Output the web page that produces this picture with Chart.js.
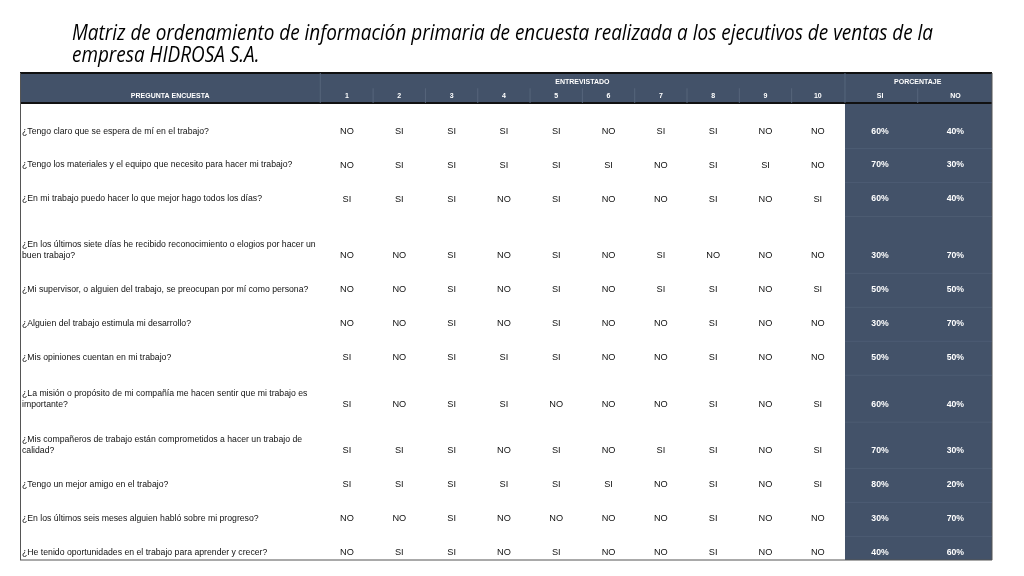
<!DOCTYPE html>
<html><head><meta charset="utf-8">
<script src="https://cdn.jsdelivr.net/npm/chart.js@4"></script>
<style>html,body{margin:0;padding:0;background:#fff}#w{width:1024px;height:576px}</style>
</head><body><div id="w"><canvas id="c"></canvas></div>
<script>
const titleLines = ["Matriz de ordenamiento de información primaria de encuesta realizada a los ejecutivos de ventas de la","empresa HIDROSA S.A."];
const questions = [
 ["¿Tengo claro que se espera de mí en el trabajo?"],
 ["¿Tengo los materiales y el equipo que necesito para hacer mi trabajo?"],
 ["¿En mi trabajo puedo hacer lo que mejor hago todos los días?"],
 ["¿En los últimos siete días he recibido reconocimiento o elogios por hacer un","buen trabajo?"],
 ["¿Mi supervisor, o alguien del trabajo, se preocupan por mí como persona?"],
 ["¿Alguien del trabajo estimula mi desarrollo?"],
 ["¿Mis opiniones cuentan en mi trabajo?"],
 ["¿La misión o propósito de mi compañía me hacen sentir que mi trabajo es","importante?"],
 ["¿Mis compañeros de trabajo están comprometidos a hacer un trabajo de","calidad?"],
 ["¿Tengo un mejor amigo en el trabajo?"],
 ["¿En los últimos seis meses alguien habló sobre mi progreso?"],
 ["¿He tenido oportunidades en el trabajo para aprender y crecer?"]
];
const interviewees = ["1","2","3","4","5","6","7","8","9","10"];
const answers = [
 ["NO","SI","SI","SI","SI","NO","SI","SI","NO","NO"],
 ["NO","SI","SI","SI","SI","SI","NO","SI","SI","NO"],
 ["SI","SI","SI","NO","SI","NO","NO","SI","NO","SI"],
 ["NO","NO","SI","NO","SI","NO","SI","NO","NO","NO"],
 ["NO","NO","SI","NO","SI","NO","SI","SI","NO","SI"],
 ["NO","NO","SI","NO","SI","NO","NO","SI","NO","NO"],
 ["SI","NO","SI","SI","SI","NO","NO","SI","NO","NO"],
 ["SI","NO","SI","SI","NO","NO","NO","SI","NO","SI"],
 ["SI","SI","SI","NO","SI","NO","SI","SI","NO","SI"],
 ["SI","SI","SI","SI","SI","SI","NO","SI","NO","SI"],
 ["NO","NO","SI","NO","NO","NO","NO","SI","NO","NO"],
 ["NO","SI","SI","NO","SI","NO","NO","SI","NO","NO"]
];
const pctSi = [60,70,60,30,50,30,50,60,70,80,30,40];
const pctNo = [40,30,40,70,50,70,50,40,30,20,70,60];

// layout (row extra spacing for two-line questions)
const rowExtra = [0,0,0,0.67,0,0,0,0.38,0.36,0,0,0];
const rowY = []; {let acc=1.71; rowExtra.forEach((e,i)=>{acc+=e; rowY.push(acc); acc+=1;});}
const X_LEFT=-5.25, X_RIGHT=13.33, X_DIV=0.49, X_DARK=10.52, X_SI=11.19, X_NO=12.63;
const Y_HEAD=0.88, Y_END=14.33;
const DARK="#435269";

const pts=[];
answers.forEach((r,i)=>r.forEach((a,j)=>pts.push({x:j+1,y:rowY[i]})));

const tablePlugin={id:'table',
 beforeDatasetsDraw(ch){
  const c=ch.ctx,xs=ch.scales.x,ys=ch.scales.y;
  const X=v=>xs.getPixelForValue(v),Y=v=>ys.getPixelForValue(v);
  c.save();
  c.fillStyle="#000";c.font="italic 22px 'Open Sans'";c.textBaseline="alphabetic";c.textAlign="left";
  const w0=c.measureText(titleLines[0]).width, sx=861/w0;
  c.save();c.translate(72,0);c.scale(sx,1);
  c.fillText(titleLines[0],0,40);c.fillText(titleLines[1],0,62);c.restore();
  c.fillStyle=DARK;c.fillRect(X(X_LEFT),Y(0),X(X_RIGHT)-X(X_LEFT),Y(Y_HEAD)-Y(0));
  c.fillRect(X(X_DARK),Y(Y_HEAD),X(X_RIGHT)-X(X_DARK),Y(Y_END)-Y(Y_HEAD));
  c.strokeStyle="#111";c.lineWidth=2;
  c.beginPath();c.moveTo(X(X_LEFT),Y(0));c.lineTo(X(X_RIGHT),Y(0));c.moveTo(X(X_LEFT),Y(Y_HEAD));c.lineTo(X(X_RIGHT),Y(Y_HEAD));c.stroke();
  c.lineWidth=1;c.strokeStyle="#56657b";
  c.beginPath();c.moveTo(X(X_DIV),Y(0));c.lineTo(X(X_DIV),Y(Y_HEAD));
  for(let k=1;k<10;k++){c.moveTo(X(k+0.5),Y(0.45));c.lineTo(X(k+0.5),Y(Y_HEAD));}
  c.moveTo(X(X_DARK),Y(0));c.lineTo(X(X_DARK),Y(Y_HEAD));
  c.moveTo(X((X_SI+X_NO)/2),Y(0.45));c.lineTo(X((X_SI+X_NO)/2),Y(Y_HEAD));c.stroke();
  c.strokeStyle="#555";c.beginPath();c.moveTo(X(X_LEFT)+0.5,Y(0));c.lineTo(X(X_LEFT)+0.5,Y(Y_END));
  c.moveTo(X(X_LEFT),Y(Y_END));c.lineTo(X(X_RIGHT),Y(Y_END));c.moveTo(X(X_RIGHT),Y(0));c.lineTo(X(X_RIGHT),Y(Y_END));c.stroke();
  c.strokeStyle="#4d5c73";c.beginPath();
  rowY.slice(0,-1).forEach(y=>{c.moveTo(X(X_DARK),Y(y+0.5)+0.5);c.lineTo(X(X_RIGHT),Y(y+0.5)+0.5);});c.stroke();
  c.fillStyle="#fff";c.font="bold 7px 'Liberation Sans'";c.textAlign="center";c.textBaseline="middle";
  c.fillText("ENTREVISTADO",X(5.5),Y(0.26));c.fillText("PORCENTAJE",X((X_SI+X_NO)/2),Y(0.26));
  c.fillText("PREGUNTA ENCUESTA",X((X_LEFT+X_DIV)/2),Y(0.68));
  interviewees.forEach((t,k)=>c.fillText(t,X(k+1),Y(0.68)));
  c.fillText("SI",X(X_SI),Y(0.68));c.fillText("NO",X(X_NO),Y(0.68));
  questions.forEach((q,i)=>{
   c.font="8.7px 'Liberation Sans'";c.fillStyle="#111";c.textAlign="left";
   const n=q.length;
   q.forEach((l,li)=>c.fillText(l,X(X_LEFT)+2,Y(rowY[i])-(n-1-li)*11));
   c.textAlign="center";c.font="9.2px 'Liberation Sans'";
   answers[i].forEach((a,j)=>c.fillText(a,X(j+1),Y(rowY[i])));
   c.fillStyle="#fff";c.font="bold 8.7px 'Liberation Sans'";
   c.fillText(pctSi[i]+"%",X(X_SI),Y(rowY[i]));c.fillText(pctNo[i]+"%",X(X_NO),Y(rowY[i]));
  });
  c.restore();
 }};

new Chart(document.getElementById('c'),{
 type:'scatter',
 data:{datasets:[{data:pts,pointRadius:0,pointHoverRadius:0}]},
 options:{responsive:true,maintainAspectRatio:false,animation:false,
  layout:{padding:{left:20,right:32,top:73,bottom:16}},
  plugins:{legend:{display:false},tooltip:{enabled:false}},
  scales:{x:{type:'linear',min:X_LEFT,max:X_RIGHT,display:false},
          y:{type:'linear',min:0,max:Y_END,reverse:true,display:false}}},
 plugins:[tablePlugin]});
</script></body></html>
